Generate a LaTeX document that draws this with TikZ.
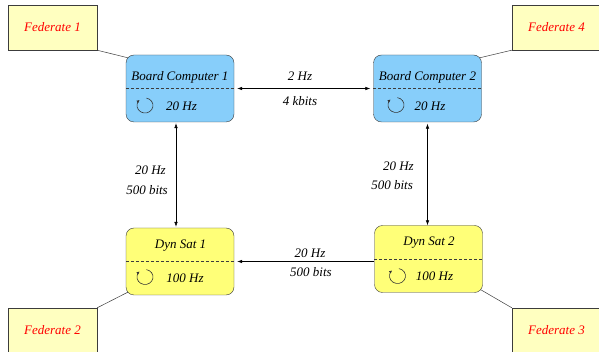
\documentclass[tikz,border=0pt]{standalone}
\usepackage{fontspec}
\setmainfont{Liberation Serif}
\usetikzlibrary{arrows.meta}
\definecolor{bcblue}{RGB}{135,206,250}
\definecolor{dsyellow}{RGB}{255,255,120}
\definecolor{fedyellow}{RGB}{255,255,192}
\definecolor{edge}{RGB}{60,60,60}
\tikzset{
  fed/.style={draw=edge, fill=fedyellow, minimum width=89pt, minimum height=45pt, inner sep=0pt,
    font=\fontsize{13}{15}\selectfont\itshape, text=red},
  comp/.style={draw=edge, rounded corners=8pt, minimum width=108pt, minimum height=67pt, inner sep=0pt},
  bc/.style={comp, fill=bcblue},
  ds/.style={comp, fill=dsyellow},
  lbl/.style={font=\fontsize{13}{15}\selectfont\itshape, inner sep=0pt},
  sep/.style={draw=edge, dashed, dash pattern=on 3pt off 2pt},
  link/.style={draw=black, line width=0.5pt, >={Latex[length=5pt,width=3.5pt]}},
  tie/.style={draw=edge, line width=0.5pt},
  loop/.style={draw=black!80, line width=0.6pt, -{Latex[length=3pt,width=3pt]}},
}
\begin{document}
\begin{tikzpicture}[x=1pt,y=-1pt]
\useasboundingbox (0,0) rectangle (599,352);
% federates
\node[fed] (f1) at (52.5,27.5) {Federate 1};
\node[fed] (f4) at (556.5,27.5) {Federate 4};
\node[fed] (f2) at (52.5,330.5) {Federate 2};
\node[fed] (f3) at (556.5,330.5) {Federate 3};
% computers
\node[bc] (bc1) at (180,88.5) {};
\node[bc] (bc2) at (427.5,88.5) {};
\node[ds] (ds1) at (180,261.5) {};
\node[ds] (ds2) at (428.5,259) {};
\foreach \n in {bc1,bc2,ds1,ds2} { \draw[sep] (\n.west) -- (\n.east); }
% titles
\node[lbl] (t1) at (180,77) {Board Computer 1};
\node[lbl] (t2) at (427.5,77) {Board Computer 2};
\node[lbl] (t3) at (180.5,246) {Dyn Sat 1};
\node[lbl] (t4) at (429,243) {Dyn Sat 2};
% rates
\node[lbl] (r1) at (181.5,106) {20 Hz};
\node[lbl] (r2) at (430,106) {20 Hz};
\node[lbl] (r3) at (185,278) {100 Hz};
\node[lbl] (r4) at (434.5,276) {100 Hz};
% loop icons
\foreach \x/\y in {145/105.5, 396/105, 145/277, 397.5/276} {
  \draw[loop] (\x,\y) ++(-80:8 and 7.5) arc[start angle=-80, end angle=228, x radius=8, y radius=7.5];
}
% connectors to federates
\draw[tie] (f1.south east) -- ([xshift=2pt,yshift=-3pt]bc1.north west);
\draw[tie] (f4.south west) -- ([xshift=-2pt,yshift=-3pt]bc2.north east);
\draw[tie] (f2.north east) -- ([xshift=2pt,yshift=3pt]ds1.south west);
\draw[tie] (f3.north west) -- ([xshift=-2pt,yshift=3pt]ds2.south east);
% data links
\draw[link, <->, shorten <=3pt, shorten >=3pt] (bc1.east) -- (bc2.west);
\draw[link, <->, shorten <=1pt, shorten >=1pt] ([xshift=-4pt]bc1.south) -- ([xshift=-4pt]ds1.north);
\draw[link, <->, shorten <=1.5pt, shorten >=0pt] (bc2.south) -- (bc2.south |- ds2.north);
\draw[link, ->, shorten >=3pt] (ds2.west |- ds1.east) -- (ds1.east);
% link labels
\node[lbl] (l1) at (300,76) {2 Hz};
\node[lbl] (l2) at (300,101) {4 kbits};
\node[lbl, anchor=east] (l3) at (166,170) {20 Hz};
\node[lbl, anchor=east] (l4) at (168,190) {500 bits};
\node[lbl, anchor=east] (l5) at (414,166) {20 Hz};
\node[lbl, anchor=east] (l6) at (413,185) {500 bits};
\node[lbl] (l7) at (310,253) {20 Hz};
\node[lbl] (l8) at (311,272) {500 bits};
\end{tikzpicture}
\end{document}
